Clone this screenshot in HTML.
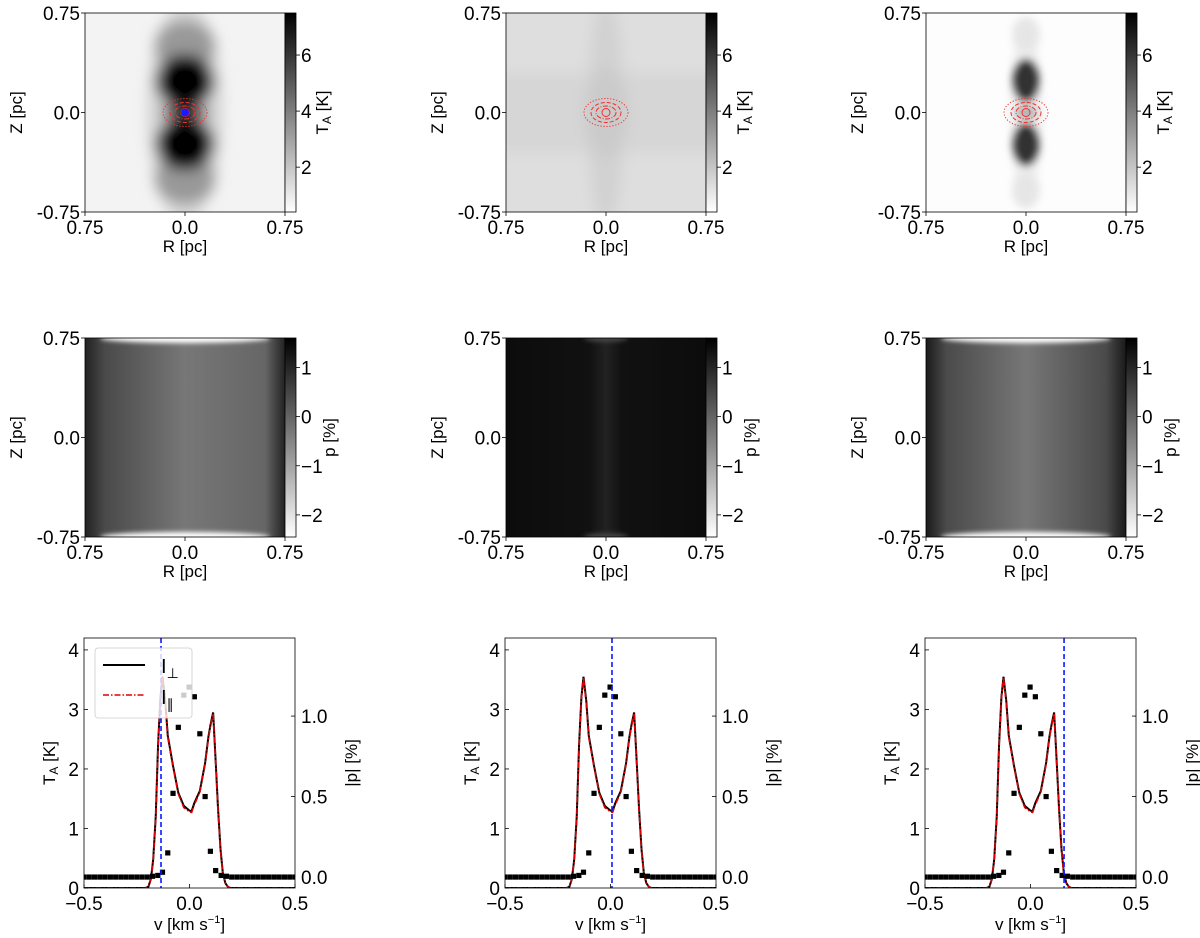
<!DOCTYPE html>
<html><head><meta charset="utf-8">
<style>
html,body{margin:0;padding:0;background:#fff;}
svg{display:block;font-family:"Liberation Sans","DejaVu Sans",sans-serif;}
</style></head>
<body>
<svg id="fig" width="1200" height="938" viewBox="0 0 1200 938" xmlns="http://www.w3.org/2000/svg">
<defs>
  <filter id="blur6" x="-50%" y="-50%" width="200%" height="200%"><feGaussianBlur stdDeviation="7"/></filter>
  <filter id="blur3" x="-50%" y="-50%" width="200%" height="200%"><feGaussianBlur stdDeviation="4"/></filter>
  <filter id="blur2" x="-20%" y="-50%" width="140%" height="200%"><feGaussianBlur stdDeviation="2.5"/></filter>
  <linearGradient id="cbar" x1="0" y1="1" x2="0" y2="0"><stop offset="0" stop-color="#fff"/><stop offset="1" stop-color="#000"/></linearGradient>
  <linearGradient id="pl" x1="0" y1="0" x2="1" y2="0"><stop offset="0" stop-color="#222"/><stop offset="0.1" stop-color="#4a4a4a"/><stop offset="0.5" stop-color="#777"/><stop offset="0.9" stop-color="#666"/><stop offset="1" stop-color="#222"/></linearGradient>
  <linearGradient id="pr" x1="0" y1="0" x2="1" y2="0"><stop offset="0" stop-color="#1a1a1a"/><stop offset="0.1" stop-color="#4a4a4a"/><stop offset="0.5" stop-color="#777"/><stop offset="0.9" stop-color="#4a4a4a"/><stop offset="1" stop-color="#1a1a1a"/></linearGradient>
  <linearGradient id="pm" x1="0" y1="0" x2="1" y2="0"><stop offset="0" stop-color="#0c0c0c"/><stop offset="0.42" stop-color="#111"/><stop offset="0.5" stop-color="#222"/><stop offset="0.58" stop-color="#111"/><stop offset="1" stop-color="#0c0c0c"/></linearGradient>
</defs>
<g id="root"></g>
</svg>
<script>
// ---- data ----
const velocity = [-0.5,-0.21,-0.195,-0.183,-0.172,-0.16,-0.149,-0.138,-0.128,-0.115,-0.103,-0.078,-0.053,-0.027,0.0,0.01,0.023,0.049,0.074,0.09,0.1,0.112,0.123,0.135,0.147,0.158,0.17,0.182,0.194,0.5];
const intensityPerp = [0,0,0.02,0.15,0.48,1.2,2.4,3.2,3.55,3.15,2.56,2.05,1.6,1.38,1.3,1.29,1.43,1.63,2.1,2.55,2.75,2.95,2.2,1.35,0.65,0.25,0.08,0.02,0,0];
const intensityPar  = [0,0,0.02,0.15,0.47,1.18,2.38,3.18,3.53,3.12,2.53,2.03,1.58,1.35,1.28,1.27,1.4,1.61,2.08,2.52,2.73,2.93,2.18,1.33,0.63,0.24,0.07,0.02,0,0];
const polVel = [-0.5,-0.475,-0.45,-0.425,-0.4,-0.375,-0.35,-0.325,-0.3,-0.275,-0.25,-0.225,-0.2,-0.175,-0.15,-0.128,-0.103,-0.078,-0.053,-0.027,-0.002,0.023,0.049,0.074,0.099,0.124,0.15,0.175,0.2,0.225,0.25,0.275,0.3,0.325,0.35,0.375,0.4,0.425,0.45,0.475,0.5];
const polValues = [0,0,0,0,0,0,0,0,0,0,0,0,0,0.005,0.01,0.03,0.15,0.52,0.93,1.13,1.18,1.12,0.89,0.5,0.16,0.04,0.01,0.005,0,0,0,0,0,0,0,0,0,0,0,0,0];
const markerVel = [-0.135, 0.007, 0.159];
const tTicks = [0,1,2,3,4];
const pTicks = [0.0,0.5,1.0];
const vTicks = [-0.5,0.0,0.5];
const cbTTicks = [2,4,6];
const cbPTicks = [-2,-1,0,1];

const NS="http://www.w3.org/2000/svg";
const root=document.getElementById('root');
function mk(tag,attrs,parent,text){const e=document.createElementNS(NS,tag);for(const k in attrs)e.setAttribute(k,attrs[k]);if(text!==undefined)e.textContent=text;(parent||root).appendChild(e);return e;}

const colX=[85,506,926];
const rowY=[13,338];
const W=200,H=199;
const FS=19;

function fmt(v,d){let s=v.toFixed(d);return s.replace('-','\u2212');}

// ---- heatmaps ----
for(let r=0;r<2;r++){
  for(let c=0;c<3;c++){
    const x0=colX[c],y0=rowY[r];
    const g=mk('g',{},root);
    
    
    const cid='clip'+r+c;
    const cp=mk('clipPath',{id:cid},g);mk('rect',{x:x0,y:y0,width:W,height:H},cp);
    const im=mk('g',{'clip-path':'url(#'+cid+')'},g);
    const cx=x0+W/2,cy=y0+H/2;
    if(r===0){
      if(c===0){
        mk('rect',{x:x0,y:y0,width:W,height:H,fill:'#f3f3f3'},im);
        const b=mk('g',{filter:'url(#blur6)'},im);
        mk('ellipse',{cx:cx,cy:cy,rx:38,ry:110,fill:'#d6d6d6'},b);
        mk('ellipse',{cx:cx,cy:cy-66,rx:30,ry:26,fill:'#999'},b);
        mk('ellipse',{cx:cx,cy:cy+66,rx:30,ry:26,fill:'#999'},b);
        mk('ellipse',{cx:cx,cy:cy-31,rx:29,ry:27,fill:'#000'},b);
        mk('ellipse',{cx:cx,cy:cy+31,rx:29,ry:27,fill:'#000'},b);
        mk('ellipse',{cx:cx,cy:cy,rx:26,ry:6,fill:'#333'},b);
      }else if(c===1){
        mk('rect',{x:x0,y:y0,width:W,height:H,fill:'#dedede'},im);
        const b=mk('g',{filter:'url(#blur6)'},im);
        mk('rect',{x:x0-20,y:cy-40,width:W+40,height:80,fill:'#d6d6d6'},b);
        mk('ellipse',{cx:cx,cy:cy,rx:18,ry:115,fill:'#d1d1d1'},b);
        mk('ellipse',{cx:cx,cy:cy,rx:22,ry:45,fill:'#cbcbcb'},b);
      }else{
        mk('rect',{x:x0,y:y0,width:W,height:H,fill:'#fdfdfd'},im);
        const b=mk('g',{filter:'url(#blur3)'},im);
        mk('ellipse',{cx:cx,cy:cy,rx:16,ry:95,fill:'#efefef'},b);
        mk('ellipse',{cx:cx,cy:cy-78,rx:14,ry:18,fill:'#e6e6e6'},b);
        mk('ellipse',{cx:cx,cy:cy+78,rx:14,ry:18,fill:'#e6e6e6'},b);
        mk('ellipse',{cx:cx,cy:cy-32,rx:14,ry:22,fill:'#333'},b);
        mk('ellipse',{cx:cx,cy:cy+32,rx:14,ry:22,fill:'#333'},b);
        mk('ellipse',{cx:cx,cy:cy,rx:12,ry:6,fill:'#aaa'},b);
      }
      const cg=mk('g',{fill:'none',stroke:'#f03030'},g);
      
      
      mk('ellipse',{cx:cx,cy:cy,rx:22,ry:14,'stroke-dasharray':'1.2,1.8','stroke-width':1},cg);
      mk('ellipse',{cx:cx,cy:cy,rx:15,ry:10,'stroke-dasharray':'4,2','stroke-width':1},cg);
      mk('ellipse',{cx:cx,cy:cy,rx:10,ry:6.5,'stroke-dasharray':'5,1.5,1,1.5','stroke-width':1},cg);
      mk('circle',{cx:cx,cy:cy,r:4,'stroke-width':1},cg);
      if(c===0){const d=mk('circle',{cx:cx,cy:cy,r:4,fill:'#1a1aff'},g);
        }
    }else{
      const gid = c===0?'pl':(c===1?'pm':'pr');
      mk('rect',{x:x0,y:y0,width:W,height:H,fill:'url(#'+gid+')'},im);
      if(c!==1){
        const b=mk('g',{filter:'url(#blur2)'},im);
        mk('ellipse',{cx:cx,cy:y0,rx:85,ry:5,fill:'#fff'},b);
        mk('ellipse',{cx:cx,cy:y0+H,rx:85,ry:5,fill:'#fff'},b);
      }else{
        const b=mk('g',{filter:'url(#blur2)'},im);
        mk('ellipse',{cx:cx,cy:y0,rx:22,ry:4,fill:'#444'},b);
        mk('ellipse',{cx:cx,cy:y0+H,rx:22,ry:4,fill:'#444'},b);
      }
    }
    mk('rect',{x:x0,y:y0,width:W,height:H,fill:'none',stroke:'#000','stroke-width':0.8},g);
    const cb=mk('g',{},g);
    
    
    mk('rect',{x:x0+W,y:y0,width:11,height:H,fill:'url(#cbar)',stroke:'#000','stroke-width':0.8},cb);
    const vmin = r===0?0.4:-2.45, vmax = r===0?7.5:1.6;
    const ticks = r===0?cbTTicks:cbPTicks;
    ticks.forEach(t=>{
      const ty=y0+H-(t-vmin)/(vmax-vmin)*H;
      mk('line',{x1:x0+W+11,x2:x0+W+15,y1:ty,y2:ty,stroke:'#000','stroke-width':0.8},cb);
      mk('text',{x:x0+W+16,y:ty+7,'font-size':FS},cb,fmt(t,0));
    });
    if(r===0){
      const t=mk('text',{transform:'translate('+(x0+W+43)+','+(y0+H/2)+') rotate(-90)','text-anchor':'middle','font-size':17},cb);
      t.innerHTML='T<tspan font-size="12" dy="3">A</tspan><tspan dy="-3"> [K]</tspan>';
    }else{
      mk('text',{transform:'translate('+(x0+W+50)+','+(y0+H/2)+') rotate(-90)','text-anchor':'middle','font-size':17},cb,'p [%]');
    }
    const ax=mk('g',{'font-size':FS},g);
    
    
    [['0.75',y0],['0.0',cy],['-0.75',y0+H]].forEach(([s,ty])=>{
      mk('line',{x1:x0-4,x2:x0,y1:ty,y2:ty,stroke:'#000','stroke-width':0.8},ax);
      mk('text',{x:x0-5,y:ty+7,'text-anchor':'end'},ax,s);
    });
    [['0.75',x0],['0.0',cx],['0.75',x0+W]].forEach(([s,tx])=>{
      mk('line',{x1:tx,x2:tx,y1:y0+H,y2:y0+H+4,stroke:'#000','stroke-width':0.8},ax);
      mk('text',{x:tx,y:y0+H+22,'text-anchor':'middle'},ax,s);
    });
    mk('text',{x:cx,y:y0+H+40,'text-anchor':'middle','font-size':17},ax,'R [pc]');
    mk('text',{transform:'translate('+(x0-63)+','+cy+') rotate(-90)','text-anchor':'middle','font-size':17},ax,'Z [pc]');
  }
}

// ---- spectra ----
const SY0=638,SY1=888,SW=211;
const tMin=0,tMax=4.2,pMin=-0.068,pMax=1.485,vMin=-0.5,vMax=0.5;
for(let c=0;c<3;c++){
  const x0=colX[c]-1;
  const g=mk('g',{},root);
  
  
  const X=v=>x0+(v-vMin)/(vMax-vMin)*SW;
  const YT=t=>SY1-(t-tMin)/(tMax-tMin)*(SY1-SY0);
  const YP=p=>SY1-(p-pMin)/(pMax-pMin)*(SY1-SY0);
  const cid='sclip'+c;
  const cp=mk('clipPath',{id:cid},g);mk('rect',{x:x0,y:SY0,width:SW,height:SY1-SY0},cp);
  const pg=mk('g',{'clip-path':'url(#'+cid+')'},g);
  const ptsA=velocity.map((v,i)=>X(v)+','+YT(intensityPerp[i])).join(' ');
  const ptsB=velocity.map((v,i)=>X(v)+','+YT(intensityPar[i])).join(' ');
  const l1=mk('polyline',{points:ptsA,fill:'none',stroke:'#000','stroke-width':2},pg);
  
  const l2=mk('polyline',{points:ptsB,fill:'none',stroke:'#e00000','stroke-width':1.6,'stroke-dasharray':'6,2,1.5,2'},pg);
  
  polVel.forEach((v,i)=>{
    const s=mk('rect',{x:X(v)-2.6,y:YP(polValues[i])-2.6,width:5.2,height:5.2,fill:'#000'},pg);
    
    
  });
  const bl=mk('line',{x1:X(markerVel[c]),x2:X(markerVel[c]),y1:SY0,y2:SY1,stroke:'#0a1aff','stroke-width':1.6,'stroke-dasharray':'5,3'},pg);
  
  mk('rect',{x:x0,y:SY0,width:SW,height:SY1-SY0,fill:'none',stroke:'#000','stroke-width':0.8},g);
  const ax=mk('g',{'font-size':FS},g);
  tTicks.forEach(t=>{const y=YT(t);
    mk('line',{x1:x0,x2:x0+4,y1:y,y2:y,stroke:'#000','stroke-width':0.8},ax);
    mk('text',{x:x0-5,y:y+7,'text-anchor':'end'},ax,fmt(t,0));});
  pTicks.forEach(p=>{const y=YP(p);
    mk('line',{x1:x0+SW-4,x2:x0+SW,y1:y,y2:y,stroke:'#000','stroke-width':0.8},ax);
    mk('text',{x:x0+SW+6,y:y+7},ax,fmt(p,1));});
  vTicks.forEach(v=>{const x=X(v);
    mk('line',{x1:x,x2:x,y1:SY1,y2:SY1-4,stroke:'#000','stroke-width':0.8},ax);
    mk('text',{x:x,y:SY1+22,'text-anchor':'middle'},ax,fmt(v,1));});
  const xl=mk('text',{x:x0+SW/2,y:SY1+42,'text-anchor':'middle','font-size':17},ax);
  xl.innerHTML='v [km s<tspan font-size="11" dy="-7">\u22121</tspan><tspan dy="7">]</tspan>';
  const yl=mk('text',{transform:'translate('+(x0-29)+','+((SY0+SY1)/2)+') rotate(-90)','text-anchor':'middle','font-size':17},ax);
  yl.innerHTML='T<tspan font-size="12" dy="3">A</tspan><tspan dy="-3"> [K]</tspan>';
  mk('text',{transform:'translate('+(x0+SW+62)+','+((SY0+SY1)/2)+') rotate(-90)','text-anchor':'middle','font-size':17},ax,'|p| [%]');
  if(c===0){
    const lg=mk('g',{},g);
    
    
    mk('rect',{x:95,y:648,width:97,height:70,rx:3,fill:'#fff','fill-opacity':0.8,stroke:'#ccc','stroke-width':0.8},lg);
    mk('line',{x1:103,x2:145,y1:665,y2:665,stroke:'#000','stroke-width':2},lg);
    mk('line',{x1:103,x2:145,y1:695,y2:695,stroke:'#e00000','stroke-width':1.6,'stroke-dasharray':'6,2,1.5,2'},lg);
    const t1=mk('text',{x:161,y:673,'font-size':20},lg);t1.innerHTML='I<tspan font-size="14" dy="5">\u22a5</tspan>';
    const t2=mk('text',{x:161,y:704,'font-size':20},lg);t2.innerHTML='I<tspan font-size="14" dy="5">\u2225</tspan>';
  }
}
</script>
</body></html>
